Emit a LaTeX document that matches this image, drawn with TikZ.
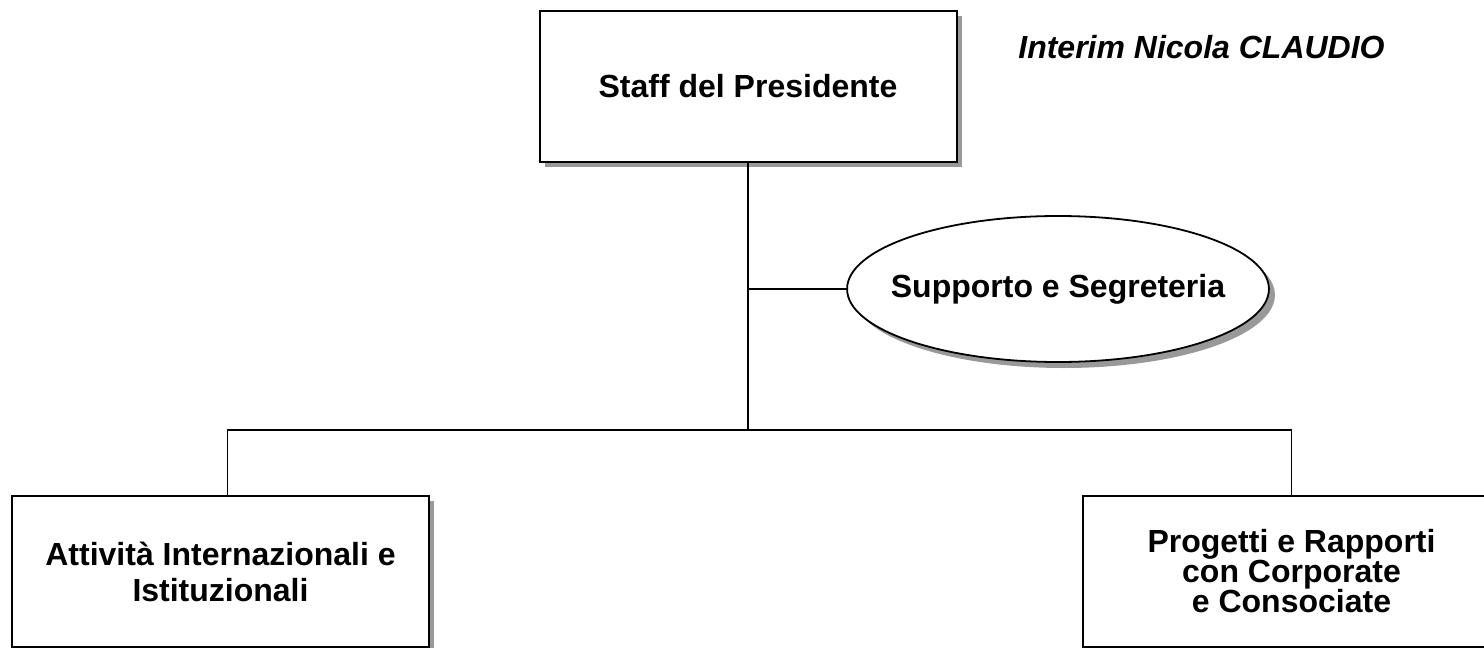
\documentclass[tikz,border=0pt]{standalone}
\usepackage{fontspec}
\setmainfont{Liberation Sans}
\usepackage{tikz}
\usetikzlibrary{shapes.geometric, shadows}
\tikzstyle{unit} = [rectangle, minimum width=208.5pt, minimum height=75.5pt, align=center, draw=black, line width=1pt, fill=white, font=\bfseries\fontsize{16}{15}\selectfont, drop shadow={shadow xshift=2.5pt, shadow yshift=-2.5pt, fill=black!40, opacity=1}]
\tikzstyle{support} = [ellipse, minimum width=208.5pt, minimum height=73pt, inner xsep=-9pt, inner ysep=0pt, align=center, draw=black, line width=0.9pt, fill=white, font=\bfseries\fontsize{16}{15}\selectfont, drop shadow={shadow xshift=3pt, shadow yshift=-3pt, fill=black!40, opacity=1}]
\tikzstyle{link} = [line width=0.75pt]

\begin{document}
\begin{tikzpicture}[x=0.5pt, y=-0.5pt]
        \useasboundingbox (0,0) rectangle (1484,648);
        \node[unit](staff) at (748,86.5){Staff del Presidente};
        \node[font=\bfseries\itshape\fontsize{16}{15}\selectfont](interim) at (1201.5,47){Interim Nicola CLAUDIO};
        \node[support](segr) at (1058,289){Supporto e Segreteria};
        \node[unit,font=\bfseries\fontsize{16}{18}\selectfont](intl) at (220.5,571.5){Attività Internazionali e\\Istituzionali};
        \node[unit](proj) at (1291.5,571.5){Progetti e Rapporti\\con Corporate\\e Consociate};
        \coordinate (hub) at (748,430);

        \draw [link] (staff.south) -- (hub);
        \draw [link] (staff.south |- segr.west) -- (segr.west);
        \draw [link] ([xshift=3.5pt]intl.north) |- (hub) -| (proj.north);
    \end{tikzpicture}
\end{document}
